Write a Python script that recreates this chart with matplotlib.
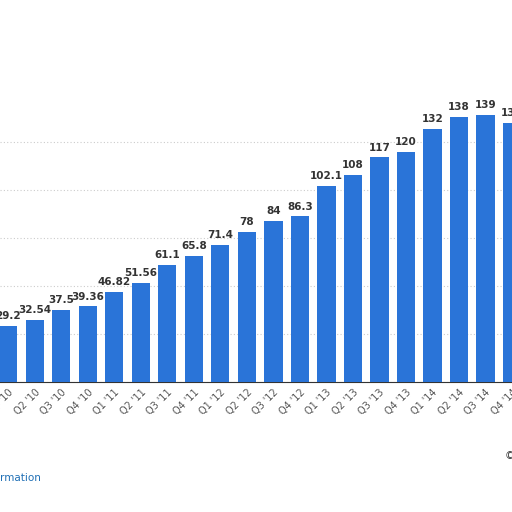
import matplotlib
matplotlib.use("Agg")
import matplotlib.pyplot as plt

quarters = ["Q1 '10","Q2 '10","Q3 '10","Q4 '10","Q1 '11","Q2 '11","Q3 '11","Q4 '11",
            "Q1 '12","Q2 '12","Q3 '12","Q4 '12","Q1 '13","Q2 '13","Q3 '13","Q4 '13",
            "Q1 '14","Q2 '14","Q3 '14","Q4 '14"]
values = [29.2,32.54,37.5,39.36,46.82,51.56,61.1,65.8,71.4,78,84,86.3,102.1,108,117,120,132,138,139,135]
labels = ["29.2","32.54","37.5","39.36","46.82","51.56","61.1","65.8","71.4","78","84","86.3",
          "102.1","108","117","120","132","138","139","135"]
yticks = [0,25,50,75,100,125]

fig = plt.figure(figsize=(5.12,5.12), dpi=100)
ax = fig.add_axes([0,130/512,1,382/512])
x = list(range(len(values)))
ax.bar(x, values, width=0.69, color="#2a74d8", zorder=3)
for xi, v, l in zip(x, values, labels):
    ax.text(xi, v+2.5, l, ha="center", va="bottom", fontsize=7.5, fontweight="bold", color="#333333")
ax.set_xlim(-0.309, 18.309)
ax.set_ylim(0, 199)
ax.set_yticks(yticks)
ax.yaxis.grid(True, linestyle=(0,(1,2)), color="#cccccc", zorder=0)
ax.tick_params(axis="y", length=0, labelleft=False)
ax.set_xticks(x)
ax.set_xticklabels(quarters, rotation=45, ha="right", rotation_mode="anchor", fontsize=7, color="#555555")
ax.tick_params(axis="x", length=0, pad=4)
for s in ["top","right","left"]:
    ax.spines[s].set_visible(False)
ax.spines["bottom"].set_color("#333333")
fig.text(0.0, 1-478/512, "rmation", fontsize=7.5, color="#1f6fb5", va="center")
fig.text(0.985, 1-456/512, "©", fontsize=7.5, color="#333333", va="center")
fig.savefig("out.png", dpi=100)
